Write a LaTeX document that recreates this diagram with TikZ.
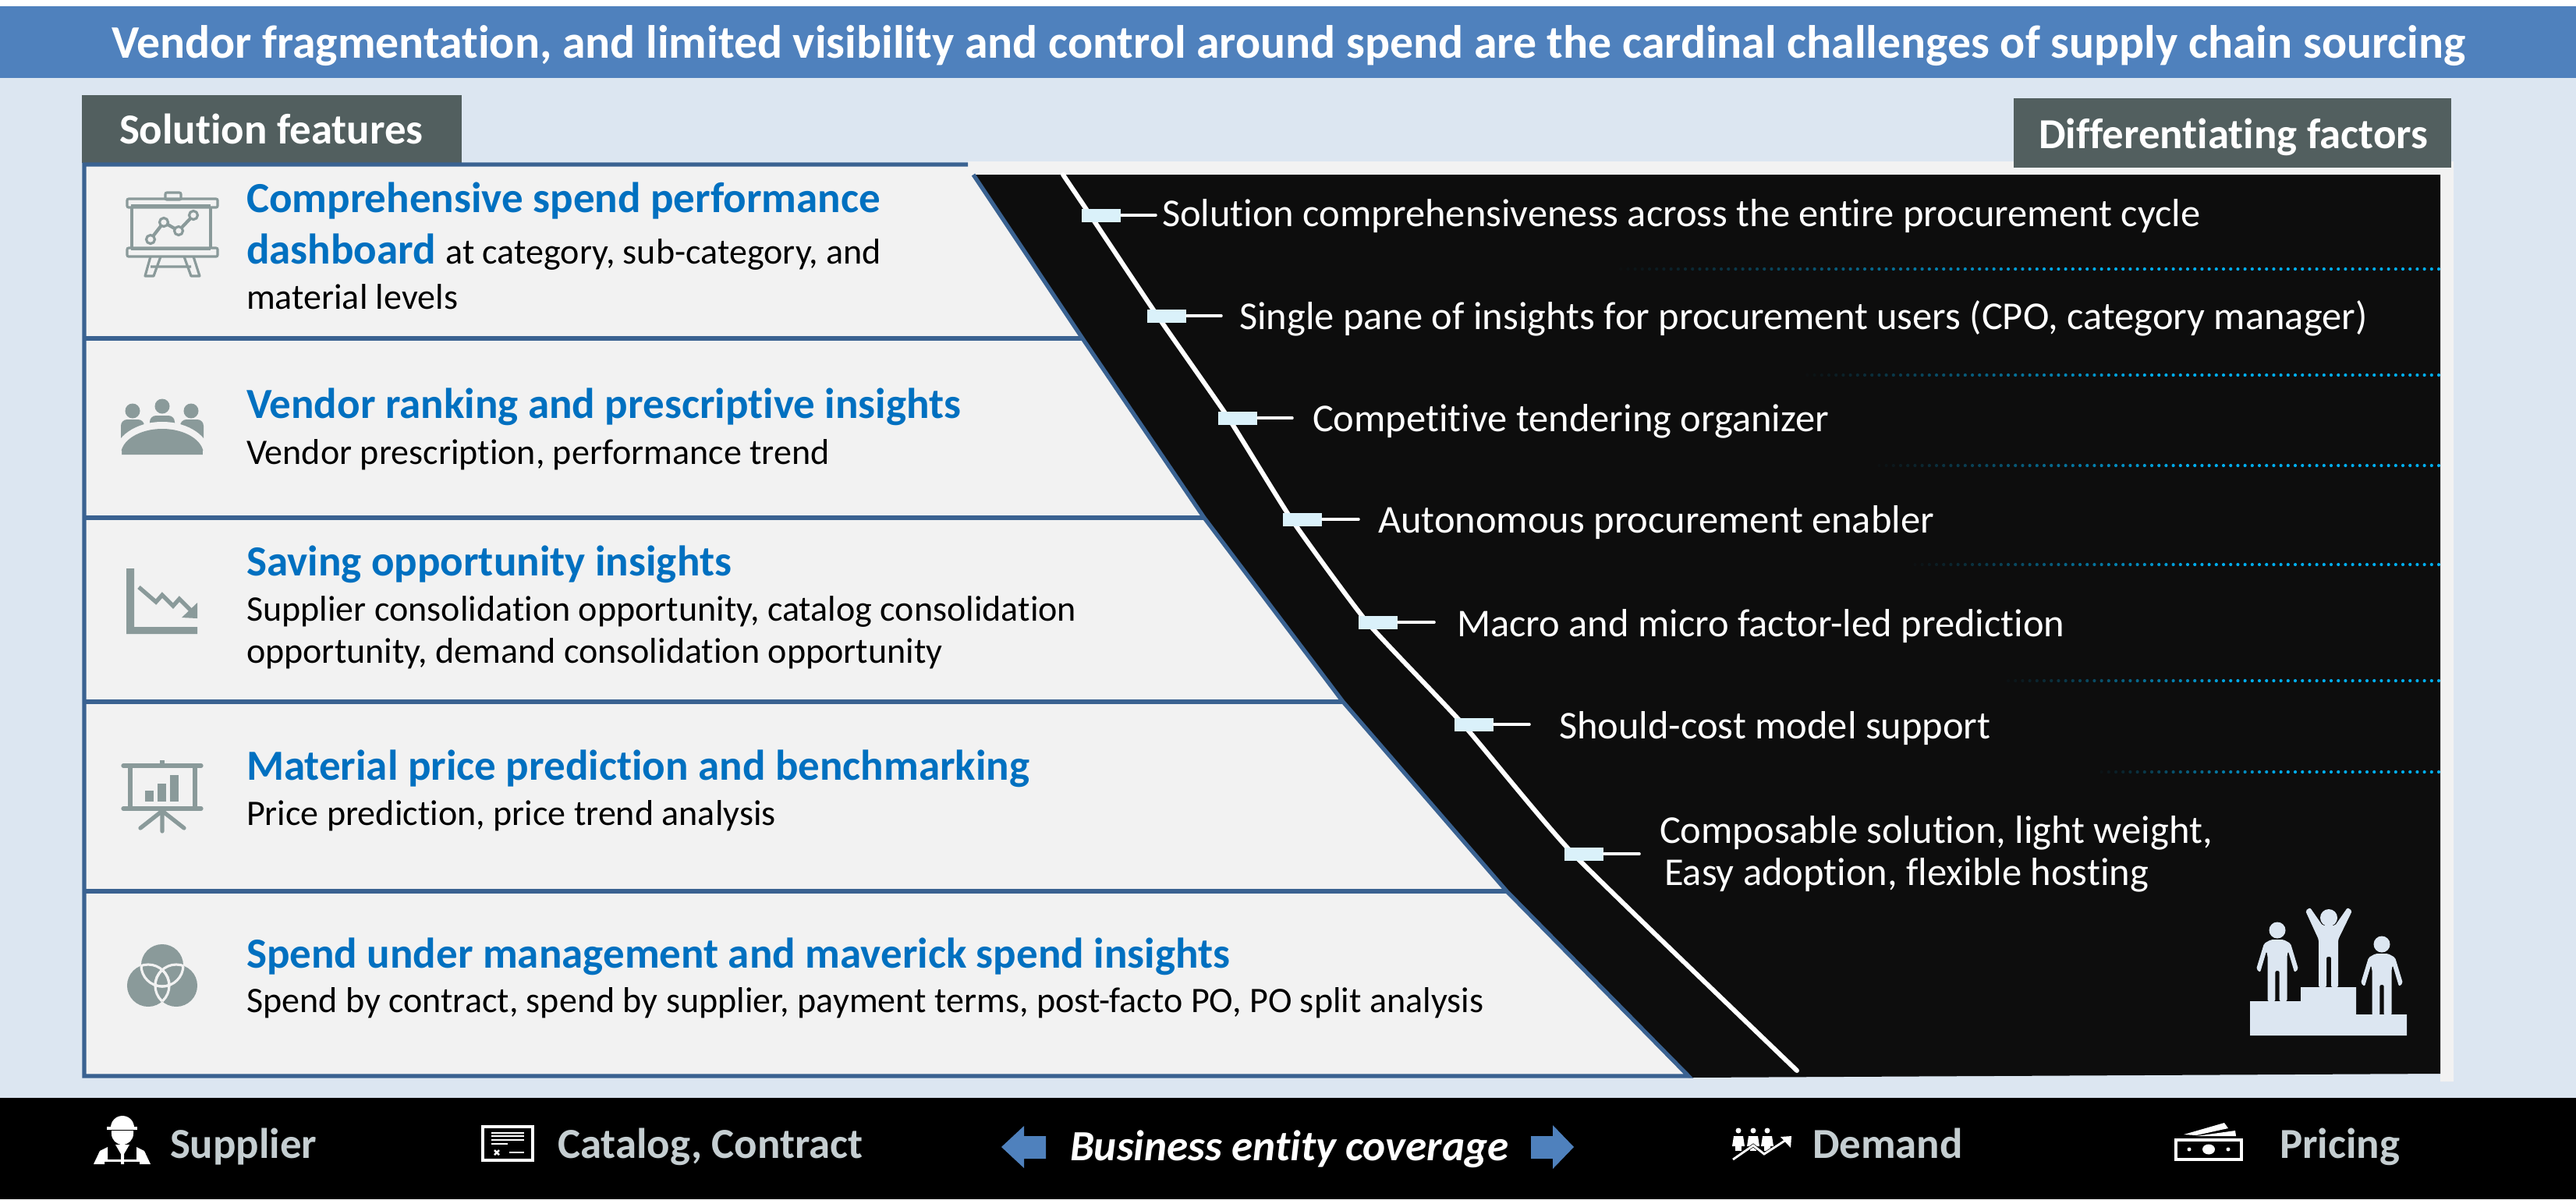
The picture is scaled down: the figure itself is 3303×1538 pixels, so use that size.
\documentclass[tikz,border=0pt]{standalone}
\usepackage{fontspec}
\setmainfont{Carlito}[Ligatures=NoCommon]
\usetikzlibrary{positioning}

\definecolor{bgblue}{HTML}{DCE6F1}
\definecolor{bandblue}{HTML}{4F81BD}
\definecolor{rulblue}{HTML}{3A6291}
\definecolor{headblue}{HTML}{0070C0}
\definecolor{cellgrey}{HTML}{F2F2F2}
\definecolor{tabgrey}{HTML}{525F5F}
\definecolor{icongrey}{HTML}{8A9A9A}
\definecolor{nearblack}{HTML}{0D0D0D}
\definecolor{markblue}{HTML}{DAF1FA}
\definecolor{dotblue}{HTML}{00AEEF}
\definecolor{entgrey}{HTML}{C5CED1}

\tikzset{
  txt/.style={anchor=base west,inner sep=0pt,outer sep=0pt},
  titletxt/.style={txt,text=white,font=\bfseries\fontsize{17}{18}\selectfont},
  tabtxt/.style={txt,text=white,font=\bfseries\fontsize{15.6}{16}\selectfont},
  headtxt/.style={txt,yshift=-0.015cm,text=headblue,font=\bfseries\fontsize{15.65}{16}\selectfont},
  bodytxt/.style={txt,yshift=-0.01cm,text=black,font=\fontsize{13.1}{14}\selectfont},
  factortxt/.style={txt,yshift=-0.01cm,text=white,font=\fontsize{14.36}{15}\selectfont},
  enttxt/.style={txt,text=entgrey,font=\bfseries\fontsize{15.6}{16}\selectfont},
  covtxt/.style={txt,text=white,font=\bfseries\itshape\fontsize{15.7}{16}\selectfont},
  rul/.style={draw=rulblue,line width=1.5pt},
  spine/.style={draw=white,line width=1.7pt,line cap=round},
  tick/.style={draw=white,line width=1pt,line cap=round},
  marker/.style={fill=markblue,inner sep=0pt,minimum width=0.5cm,minimum height=0.17cm},
  ico/.style={fill=icongrey},
  icoline/.style={draw=icongrey,line width=1.5pt},
  entico/.style={fill=white},
  standee/.pic={
    \fill[bgblue] (0,0) circle (0.105cm);
    \fill[bgblue,rounded corners=0.02cm] (-8,12) -- (8,12) -- (17,17) -- (27,50) -- (22,54) -- (14,27)
      -- (12.5,32) -- (12.5,91) -- (2.7,91) -- (2.7,52) -- (-2.7,52) -- (-2.7,91) -- (-12.5,91)
      -- (-12.5,32) -- (-14,27) -- (-22,54) -- (-27,50) -- (-17,17) -- cycle;
  },
}

% one dotted row, fading out to the left
\newcommand{\dotrow}[2]{%
  \pgfmathsetmacro{\nd}{int((3127-#2)/9.2)}
  \foreach \k in {0,...,\nd}{
    \pgfmathsetmacro{\pct}{min(100,100*(\nd-\k)/(0.55*\nd))}
    \fill[dotblue!\pct!nearblack] (3127-\k*9.2,#1) circle (0.021cm);
  }
}

\begin{document}
\begin{tikzpicture}[x=0.01cm,y=-0.01cm]
\useasboundingbox (0,0) rectangle (3303,1538);

% backgrounds
\fill[white] (0,0) rectangle (3303,1538);
\fill[bgblue] (0,100) rectangle (3303,1408);
\fill[bandblue] (0,8) rectangle (3303,100);
\fill[black] (0,1408) rectangle (3303,1538);
\fill[cellgrey] (1241,207) -- (3146,207) -- (3146,1387) -- (3129,1387) -- (3129,1370) -- (1241,700) -- cycle;
\fill[tabgrey] (105,122) rectangle (592,209);
\fill[tabgrey] (2582,126) rectangle (3143,215);

% feature cells and the black panel
\fill[cellgrey] (108,211) -- (1248,211) -- (1388,434) -- (1544,664) -- (1722,900) -- (1932,1143)
  -- (2165,1380) -- (108,1380) -- cycle;
\fill[nearblack] (1248,224) -- (3129,224) -- (3129,1377) -- (2165,1382) -- (1932,1143) -- (1722,900)
  -- (1544,664) -- (1388,434) -- cycle;
\draw[rul] (1241,211) -- (108,211) -- (108,1380) -- (2165,1380) -- (1932,1143) -- (1722,900)
  -- (1544,664) -- (1388,434) -- (1248,224);
\draw[rul] (108,434) -- (1388,434);
\draw[rul] (108,664) -- (1544,664);
\draw[rul] (108,900) -- (1722,900);
\draw[rul] (108,1143) -- (1932,1143);

% headline and tabs
\node[titletxt] (title) at (143,74) {Vendor fragmentation, and limited visibility and control around spend are the cardinal challenges of supply chain sourcing};
\node[tabtxt] (solfeat) at (153,184) {Solution features};
\node[tabtxt] (difffact) at (2614,190) {Differentiating factors};

% feature texts
\node[headtxt] (h1) at (316,271) {Comprehensive spend performance};
\node[txt,yshift=-0.01cm] (h1b) at (316,337) {\fontsize{15.65}{16}\selectfont\bfseries\color{headblue}dashboard \fontsize{13.1}{14}\selectfont\mdseries\color{black}at category, sub-category, and};
\node[bodytxt] (b1) at (316,395) {material levels};
\node[headtxt] (h2) at (316,535) {Vendor ranking and prescriptive insights};
\node[bodytxt] (b2) at (316,594) {Vendor prescription, performance trend};
\node[headtxt] (h3) at (316,737) {Saving opportunity insights};
\node[bodytxt] (b3) at (316,795) {Supplier consolidation opportunity, catalog consolidation};
\node[bodytxt] (b3b) at (316,849) {opportunity, demand consolidation opportunity};
\node[headtxt] (h4) at (316,999) {Material price prediction and benchmarking};
\node[bodytxt] (b4) at (316,1057) {Price prediction, price trend analysis};
\node[headtxt] (h5) at (316,1240) {Spend under management and maverick spend insights};
\node[bodytxt] (b5) at (316,1297) {Spend by contract, spend by supplier, payment terms, post-facto PO, PO split analysis};

% dotted rows
\dotrow{345}{2060}
\dotrow{481}{2300}
\dotrow{597}{2400}
\dotrow{724}{2440}
\dotrow{873}{2560}
\dotrow{990}{2680}

% spine with its markers
\coordinate (s0) at (1363,224);
\coordinate (s1) at (1398,276);
\coordinate (s2) at (1484,405);
\coordinate (s3) at (1575,536);
\coordinate (s4) at (1656,666);
\coordinate (s5) at (1753,798);
\coordinate (s6) at (1876,929);
\coordinate (s7) at (2017,1095);
\coordinate (s8) at (2304,1373);
\draw[spine] plot[smooth,tension=0.3] coordinates {(s0) (s1) (s2) (s3) (s4) (s5) (s6) (s7) (s8)};

\node[marker] (m1) at (1412,276) {};
\node[marker] (m2) at (1496,405) {};
\node[marker] (m3) at (1587,536) {};
\node[marker] (m4) at (1670,666) {};
\node[marker] (m5) at (1767,798) {};
\node[marker] (m6) at (1890,929) {};
\node[marker] (m7) at (2031,1095) {};
\coordinate (e1) at (1482,276);
\coordinate (e2) at (1566,405);
\coordinate (e3) at (1657,536);
\coordinate (e4) at (1742,666);
\coordinate (e5) at (1839,798);
\coordinate (e6) at (1961,929);
\coordinate (e7) at (2102,1095);
\foreach \i in {1,...,7}
  \draw[tick] (m\i.east) -- (e\i);

\node[factortxt] (f1) at (1490,289) {Solution comprehensiveness across the entire procurement cycle};
\node[factortxt] (f2) at (1589,421) {Single pane of insights for procurement users (CPO, category manager)};
\node[factortxt] (f3) at (1683,552) {Competitive tendering organizer};
\node[factortxt] (f4) at (1767,682) {Autonomous procurement enabler};
\node[factortxt] (f5) at (1868,815) {Macro and micro factor-led prediction};
\node[factortxt] (f6) at (1999,946) {Should-cost model support};
\node[factortxt] (f7) at (2128,1080) {Composable solution, light weight,};
\node[factortxt] (f7b) at (2134,1134) {Easy adoption, flexible hosting};

% podium
\fill[bgblue] (2885,1328) -- (2885,1284) -- (2950,1284) -- (2950,1266) -- (3021,1266) -- (3021,1301)
  -- (3086,1301) -- (3086,1328) -- cycle;
\pic (leftman) at (2920,1193) {standee};
\pic (rightman) at (3054,1211) {standee};
\fill[bgblue] (2986,1177) circle (0.11cm);
\fill[bgblue,rounded corners=0.02cm] (2956,1168) -- (2962,1164) -- (2978,1187) -- (2994,1187) -- (3010,1164)
  -- (3016,1168) -- (2998,1205) -- (2998,1266) -- (2989,1266) -- (2989,1227) -- (2983,1227)
  -- (2983,1266) -- (2973,1266) -- (2973,1205) -- cycle;

% row icon 1, dashboard on a stand
\draw[icongrey,line width=0.9pt,rounded corners=0.02cm] (212,247) rectangle (232,256);
\draw[icongrey,line width=0.9pt,rounded corners=0.02cm] (163,255) rectangle (279,266);
\draw[icongrey,line width=0.9pt,rounded corners=0.02cm] (163,318) rectangle (279,329);
\draw[icongrey,line width=0.9pt] (169,266) -- (169,318) (270,266) -- (270,318) (168,264) -- (270,264) (168,319) -- (270,319);
\draw[icongrey,line width=0.9pt,line join=round] (193,329) -- (186,354) -- (197,354) -- (206,329) (236,329) -- (245,354) -- (256,354) -- (248,329) (193,342) -- (245,342);
\draw[icongrey,line width=1.2pt] (193,307) -- (210,285) -- (229,296) -- (248,276);
\foreach \cx/\cy in {193/307,210/285,229/296,248/276}
  \draw[icongrey,line width=0.9pt,fill=cellgrey] (\cx,\cy) circle (0.055cm);

% row icon 2, meeting
\fill[ico] (170,527) circle (0.095cm);
\fill[ico] (208,521) circle (0.095cm);
\fill[ico] (245,527) circle (0.095cm);
\fill[ico,rounded corners=0.08cm] (155,570) -- (155,538) -- (185,538) -- (185,570) -- cycle;
\fill[ico,rounded corners=0.08cm] (231,570) -- (231,538) -- (261,538) -- (261,570) -- cycle;
\fill[ico,rounded corners=0.08cm] (192,560) -- (192,533) -- (224,533) -- (224,560) -- cycle;
\fill[cellgrey] (147,583) arc[start angle=180,end angle=0,x radius=0.61cm,y radius=0.42cm] -- cycle;
\fill[ico] (155,583) arc[start angle=180,end angle=0,x radius=0.53cm,y radius=0.33cm] -- cycle;
\fill[cellgrey] (150,578) rectangle (156,590) (260,578) rectangle (266,590);

% row icon 3, falling chart
\fill[ico] (162,729) -- (172,729) -- (172,804) -- (253,804) -- (253,813) -- (162,813) -- cycle;
\draw[icoline,line join=miter] (178,753) -- (200,772) -- (208,763) -- (222,777) -- (230,768) -- (247,785);
\fill[ico] (253,773) -- (253,793) -- (233,792) -- cycle;

% row icon 4, board with bars
\draw[icoline,line cap=round] (158,982) -- (258,982);
\draw[icoline,line cap=round] (158,1037) -- (258,1037);
\draw[icoline] (167,982) -- (167,1037) (250,982) -- (250,1037);
\fill[ico] (205,975) rectangle (211,982);
\fill[ico] (186,1014) rectangle (197,1028);
\fill[ico] (202,1005) rectangle (213,1028);
\fill[ico] (218,994) rectangle (229,1028);
\draw[icoline,line cap=round] (208,1037) -- (208,1066) (208,1040) -- (180,1062) (208,1040) -- (236,1062);

% row icon 5, three circles
\fill[ico] (208,1238) circle (0.27cm);
\fill[ico] (190,1264) circle (0.27cm);
\fill[ico] (226,1264) circle (0.27cm);
\begin{scope}
  \clip (208,1238) circle (0.27cm);
  \draw[cellgrey,line width=0.9pt] (190,1264) circle (0.27cm) (226,1264) circle (0.27cm);
\end{scope}
\begin{scope}
  \clip (190,1264) circle (0.27cm);
  \draw[cellgrey,line width=0.9pt] (208,1238) circle (0.27cm) (226,1264) circle (0.27cm);
\end{scope}
\begin{scope}
  \clip (226,1264) circle (0.27cm);
  \draw[cellgrey,line width=0.9pt] (208,1238) circle (0.27cm) (190,1264) circle (0.27cm);
\end{scope}

% bottom band
\node[enttxt] (supplier) at (218,1485) {Supplier};
\node[enttxt] (catalog) at (715,1485) {Catalog, Contract};
\node[covtxt] (coverage) at (1372,1488) {Business entity coverage};
\node[enttxt] (demand) at (2324,1485) {Demand};
\node[enttxt] (pricing) at (2923,1485) {Pricing};

\fill[bandblue] (1284,1471) -- (1313,1444) -- (1313,1457) -- (1341,1457) -- (1341,1486) -- (1313,1486) -- (1313,1498) -- cycle;
\fill[bandblue] (2018,1471) -- (1991,1443) -- (1991,1457) -- (1963,1457) -- (1963,1486) -- (1991,1486) -- (1991,1499) -- cycle;

% supplier icon
\fill[entico] (142,1446) arc[start angle=180,end angle=0,radius=0.15cm] -- cycle;
\fill[entico] (137,1445) rectangle (176,1449);
\fill[entico] (143,1450) -- (171,1450) -- (171,1454) arc[start angle=0,end angle=-180,radius=0.14cm] -- cycle;
\fill[entico] (120,1493) -- (128,1476) -- (138,1471) -- (138,1488) -- (134,1488) -- (134,1493) -- cycle;
\fill[entico] (193,1493) -- (185,1476) -- (175,1471) -- (175,1488) -- (179,1488) -- (179,1493) -- cycle;
\fill[entico] (148,1468) -- (166,1468) -- (159,1480) -- (159,1493) -- (155,1493) -- (155,1480) -- cycle;
\fill[entico] (134,1487) rectangle (179,1490);

% catalog icon
\draw[white,line width=0.9pt] (619,1445) rectangle (683,1488);
\draw[white,line width=0.7pt] (630,1453) -- (672,1453) (630,1457) -- (672,1457) (630,1462) -- (672,1462) (630,1467) -- (651,1467) (653,1478) -- (672,1478);
\draw[white,line width=0.7pt] (634,1475) -- (640,1481) (640,1475) -- (634,1481);

% demand icon
\foreach \px in {2229,2248,2266}{
  \fill[entico] (\px,1450) circle (0.035cm);
  \fill[entico] (\px-8,1470) -- (\px-6,1457) -- (\px+6,1457) -- (\px+8,1470) -- cycle;
  \fill[entico] (\px-4,1470) rectangle (\px+4,1476);
}
\draw[black,line width=1.2pt] (2222,1487) -- (2248,1469) -- (2262,1480) -- (2290,1462);
\draw[white,line width=0.8pt] (2222,1487) -- (2248,1469) -- (2262,1480) -- (2290,1462);
\fill[entico] (2297,1457) -- (2283,1458) -- (2296,1472) -- cycle;

% pricing icon
\draw[white,line width=1.1pt] (2790,1462) rectangle (2874,1487);
\fill[entico] (2832,1474) ellipse (0.08cm and 0.065cm);
\fill[entico] (2807,1474) circle (0.025cm);
\fill[entico] (2857,1474) circle (0.025cm);
\fill[entico] (2800,1455) -- (2852,1440) -- (2857,1447) -- (2816,1456) -- cycle;
\fill[entico] (2816,1457) -- (2866,1450) -- (2867,1457) -- cycle;
\end{tikzpicture}
\end{document}
